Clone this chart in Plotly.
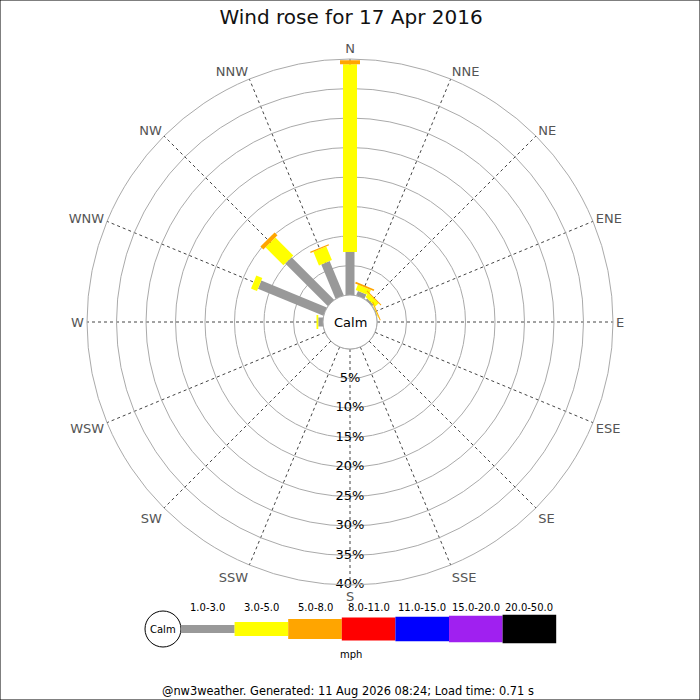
import plotly.graph_objects as go

# direction labels (clockwise from N) and the bar data in % per speed class
directions = ["N", "NNE", "NE", "ENE", "E", "ESE", "SE", "SSE",
              "S", "SSW", "SW", "WSW", "W", "WNW", "NW", "NNW"]
angles = [i * 22.5 for i in range(16)]

speed_1_3 = [7.3, 0.8, 0.3, 0.1, 0, 0, 0, 0, 0, 0, 0, 0, 0.8, 12.0, 10.2, 6.3]
speed_3_5 = [31.8, 1.0, 0.8, 0.1, 0, 0, 0, 0, 0, 0, 0, 0, 0.3, 1.1, 4.3, 2.5]
speed_5_8 = [0.7, 0.3, 0.15, 0.15, 0, 0, 0, 0, 0, 0, 0, 0, 0, 0, 0.7, 0.2]

# legend classes
class_labels = ["1.0-3.0", "3.0-5.0", "5.0-8.0", "8.0-11.0", "11.0-15.0", "15.0-20.0", "20.0-50.0"]
class_colors = ["#999999", "#ffff00", "#ffa500", "#ff0000", "#0000ff", "#a020f0", "#000000"]
class_widths = [9, 14, 20, 23, 24.5, 26.5, 28.5]

ring_values = [5, 10, 15, 20, 25, 30, 35, 40]

fig = go.Figure()

# calm circle (inner edge of the hole)
fig.add_trace(go.Scatterpolar(
    r=[0] * 73, theta=[i * 5 for i in range(73)], mode="lines",
    line=dict(color="#aaaaaa", width=1), hoverinfo="skip", showlegend=False))

# stacked segments drawn as thick radial lines
series = [speed_1_3, speed_3_5, speed_5_8]
base = [0.0] * 16
for k, vals in enumerate(series):
    rr, tt = [], []
    for i in range(16):
        if vals[i] > 0:
            rr += [base[i], base[i] + vals[i], None]
            tt += [angles[i], angles[i], None]
        base[i] += vals[i]
    fig.add_trace(go.Scatterpolar(
        r=rr, theta=tt, mode="lines", connectgaps=False,
        line=dict(color=class_colors[k], width=class_widths[k]),
        hoverinfo="skip", showlegend=False))

# percentage labels down the S spoke
fig.add_trace(go.Scatterpolar(
    r=ring_values, theta=[180] * len(ring_values), mode="text",
    text=[f"{v}%" for v in ring_values], textposition="middle center",
    textfont=dict(size=13, color="black", family="DejaVu Sans"),
    hoverinfo="skip", showlegend=False))

fig.update_layout(
    width=700, height=700,
    margin=dict(l=0, r=0, t=0, b=0),
    paper_bgcolor="white",
    font=dict(family="DejaVu Sans"),
    title=dict(text="Wind rose for 17 Apr 2016", x=351 / 700, xanchor="center",
               y=1 - 17 / 700, yanchor="middle",
               font=dict(size=20, color="#111111", family="DejaVu Sans")),
    polar=dict(
        domain=dict(x=[87 / 700, 613 / 700], y=[115 / 700, 641 / 700]),
        hole=27 / 263,
        bgcolor="white",
        radialaxis=dict(range=[0, 40], tickvals=ring_values, showticklabels=False,
                        ticks="", showline=False, gridcolor="#aaaaaa", gridwidth=1),
        angularaxis=dict(rotation=90, direction="clockwise", tickmode="array",
                         tickvals=angles, ticktext=directions, ticks="",
                         showline=True, linecolor="#aaaaaa", linewidth=1,
                         gridcolor="#444444", griddash="dot", gridwidth=1,
                         tickfont=dict(size=13, color="#555555")),
    ),
)

fig.add_annotation(x=350 / 700, y=1 - 322 / 700, xref="paper", yref="paper",
                   xanchor="center", yanchor="middle",
                   text="Calm", showarrow=False,
                   font=dict(size=13, color="black"))

# legend at the bottom
leg_y = 1 - 629 / 700
x_left = 181
seg_w = 53.6
fig.add_shape(type="circle", xref="paper", yref="paper",
              x0=(163 - 18) / 700, x1=(163 + 18) / 700,
              y0=leg_y - 18 / 700, y1=leg_y + 18 / 700,
              line=dict(color="black", width=1), fillcolor="white")
fig.add_annotation(x=163 / 700, y=leg_y, xref="paper", yref="paper",
                   xanchor="center", yanchor="middle",
                   text="Calm", showarrow=False, font=dict(size=10, color="black"))
for k, lab in enumerate(class_labels):
    x0 = x_left + k * seg_w
    h = class_widths[k] - (1 if k == 0 else 0)
    fig.add_shape(type="rect", xref="paper", yref="paper",
                  x0=x0 / 700, x1=(x0 + seg_w) / 700,
                  y0=leg_y - h / 2 / 700, y1=leg_y + h / 2 / 700,
                  line=dict(width=0), fillcolor=class_colors[k])
    fig.add_annotation(x=(x0 + seg_w / 2) / 700, y=1 - 607 / 700, xref="paper", yref="paper",
                       xanchor="center", yanchor="middle",
                       text=lab, showarrow=False, font=dict(size=10, color="black"))
fig.add_annotation(x=351 / 700, y=1 - 654 / 700, xref="paper", yref="paper",
                   xanchor="center", yanchor="middle",
                   text="mph", showarrow=False, font=dict(size=10, color="black"))
fig.add_annotation(x=348 / 700, y=1 - 691 / 700, xref="paper", yref="paper",
                   xanchor="center", yanchor="middle",
                   text="@nw3weather. Generated: 11 Aug 2026 08:24; Load time: 0.71 s",
                   showarrow=False, font=dict(size=11.4, color="black"))

# outer border
fig.add_shape(type="rect", xref="paper", yref="paper", x0=0, x1=1, y0=0, y1=1,
              line=dict(color="black", width=1))

fig.write_html("out.html", config={"displayModeBar": False},
               post_script="document.body.style.margin='0';")
